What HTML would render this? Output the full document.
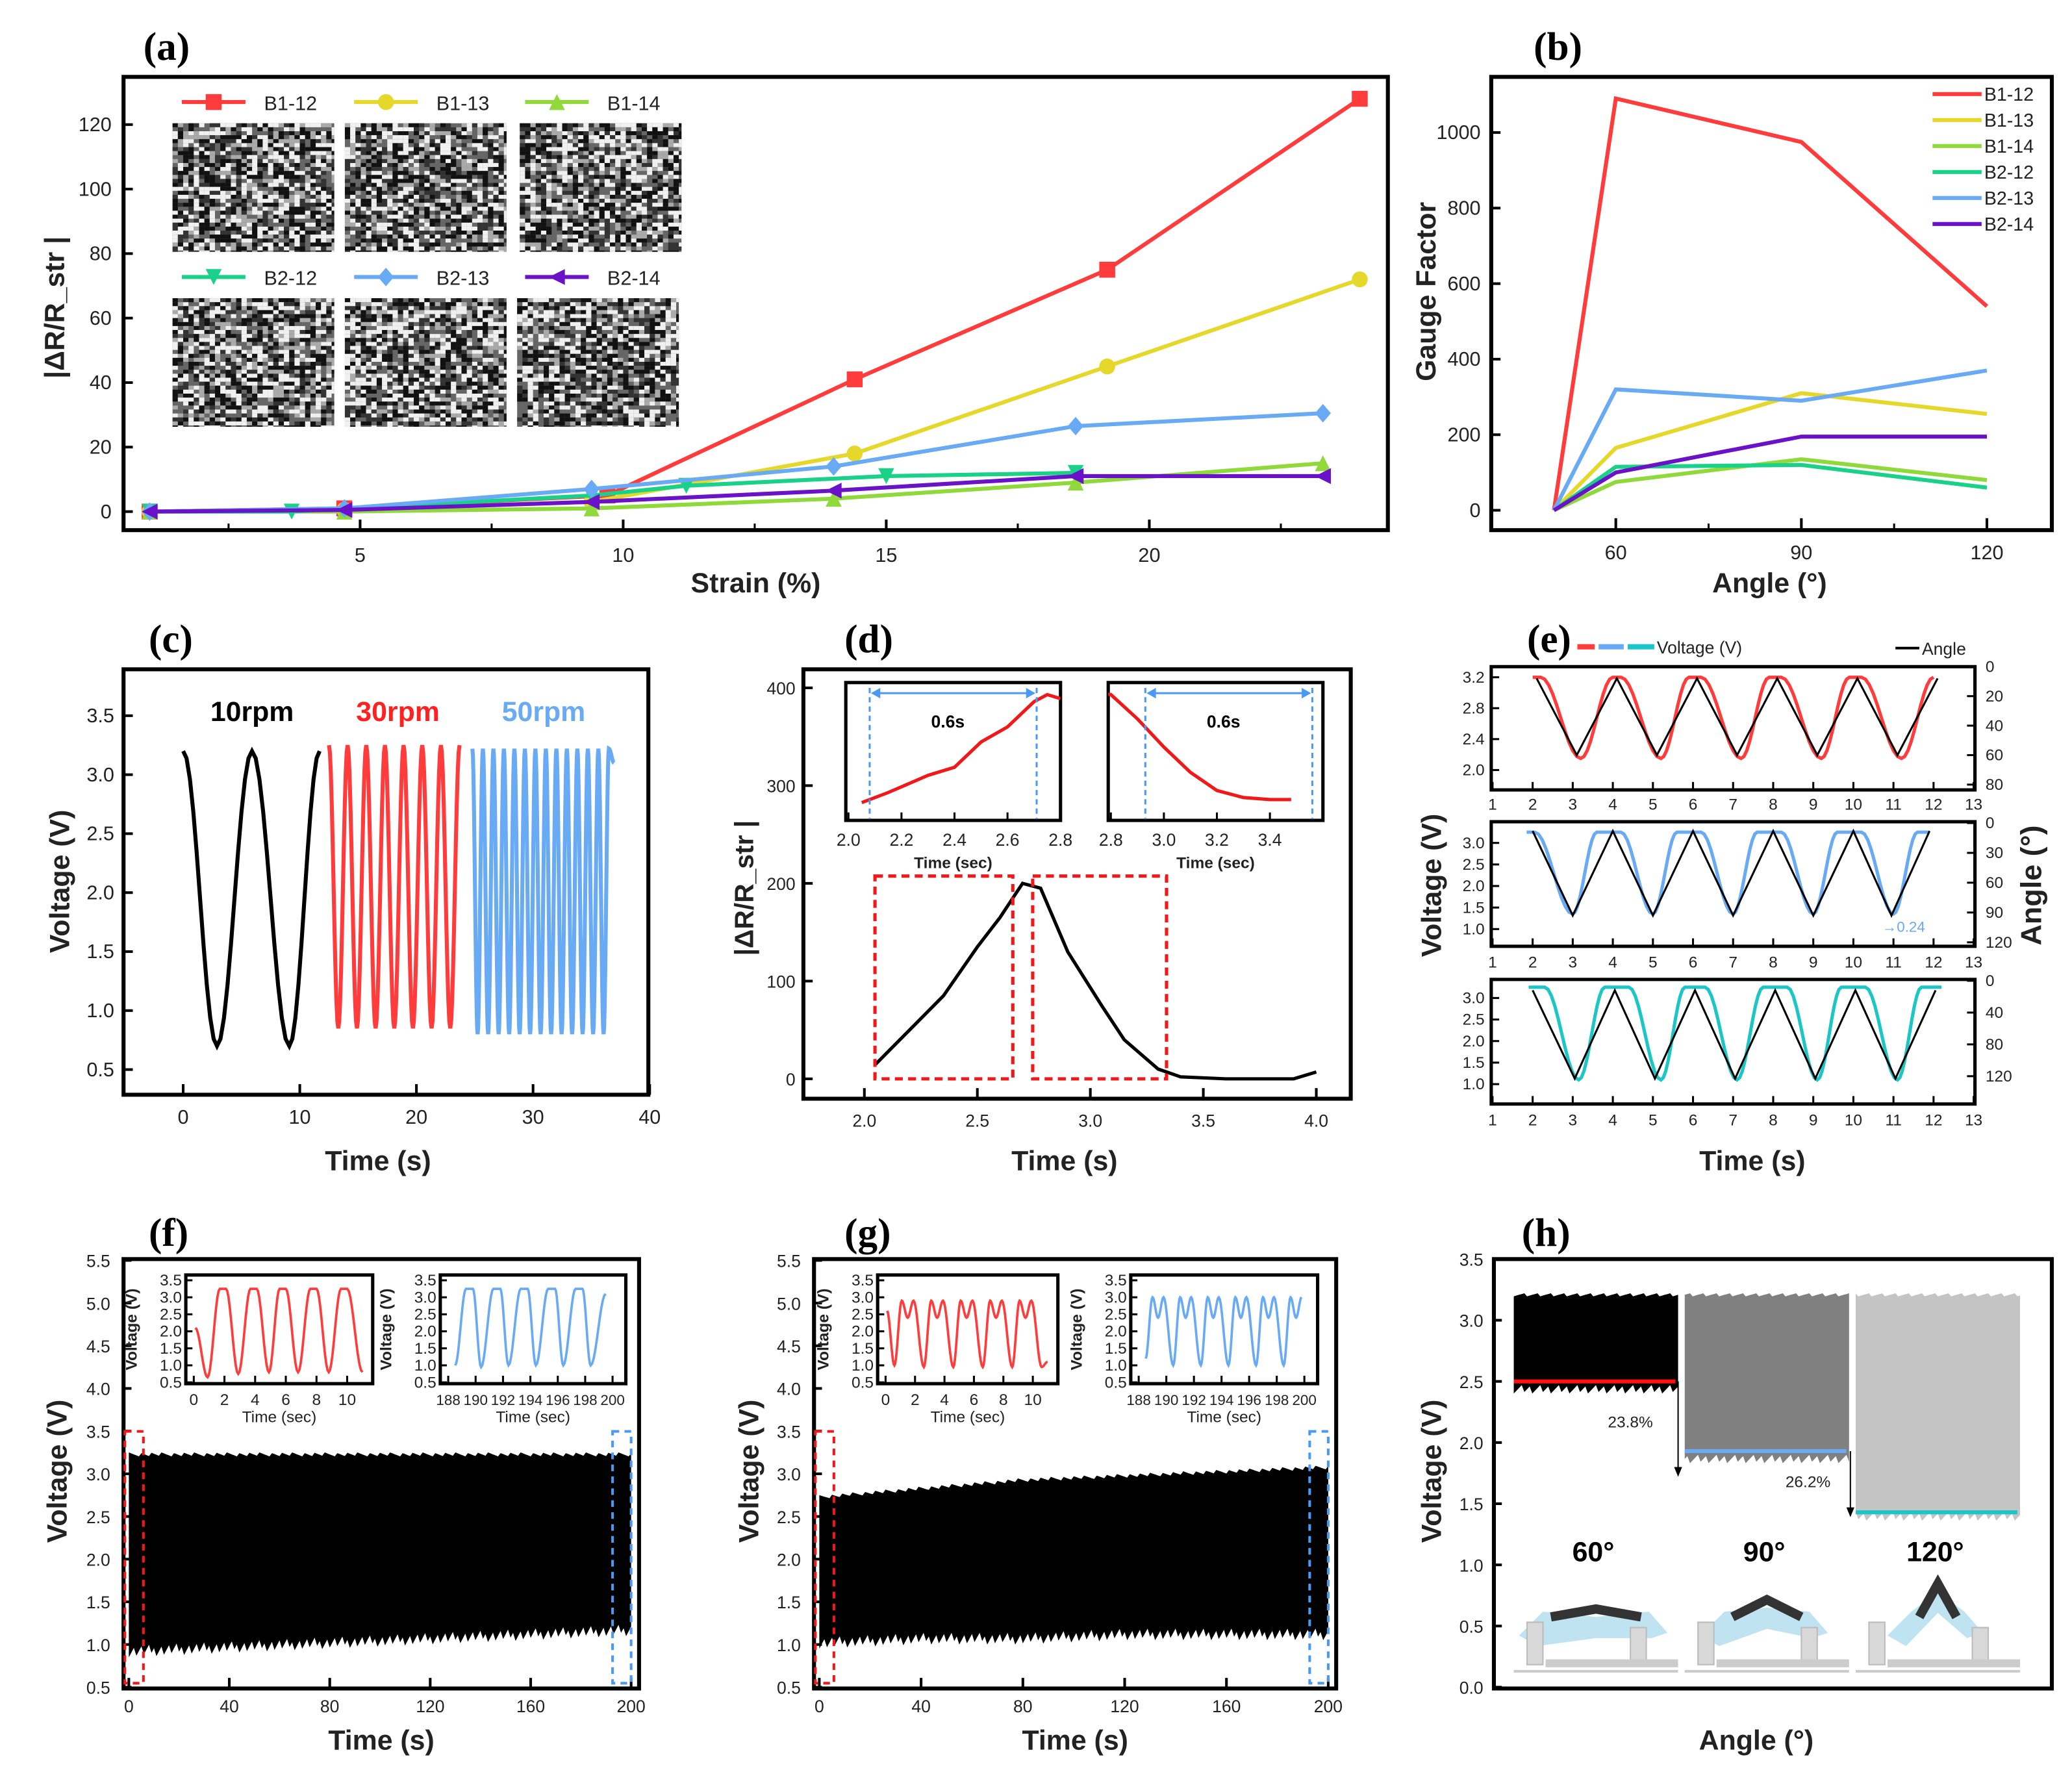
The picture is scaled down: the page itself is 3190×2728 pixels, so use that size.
<!DOCTYPE html>
<html><head><meta charset="utf-8"><style>
html,body{margin:0;padding:0;background:#fff;}
svg{display:block;}
text{font-family:"Liberation Sans",Arial,sans-serif;}
</style></head><body>
<svg id="fig" xmlns="http://www.w3.org/2000/svg" width="3190" height="2728" viewBox="0 0 1563 1337"></svg>
<script>
// ---------- DATA ----------
// (a)
const aStrain = {
 'B1-12':[1,4.7,9.7,14.4,19.2,24], 'B1-13':[1,4.7,9.4,14.4,19.2,24], 'B1-14':[1,4.7,9.4,14,18.6,23.3],
 'B2-12':[1,3.7,9.4,11.2,15,18.6], 'B2-13':[1,4.7,9.4,14,18.6,23.3], 'B2-14':[1,4.7,9.4,14,18.6,23.3]};
const aB112=[0,1,5,41,75,128];
const aB113=[0,0.5,3,18,45,72];
const aB114=[0,0,1,4,9,15];
const aB212=[0,0,5,8,11,12];
const aB213=[0,1,7,14,26.5,30.5];
const aB214=[0,0.5,3,6.5,11,11];
const aXTicks=[5,10,15,20];
const aYTicks=[0,20,40,60,80,100,120];
// (b)
const bAngles=[50,60,90,120];
const bB112=[0,1090,975,540];
const bB113=[0,165,310,255];
const bB114=[0,75,135,80];
const bB212=[0,115,120,60];
const bB213=[0,320,290,370];
const bB214=[0,100,195,195];
const bXTicks=[60,90,120];
const bYTicks=[0,200,400,600,800,1000];
// (c) extrema of voltage waveforms
const cBlackT=[0,2.9,5.9,9.1,11.7];
const cBlackV=[3.2,0.7,3.2,0.7,3.2];
const cRedT=[12.5,13.3,14.1,14.9,15.7,16.5,17.3,18.1,18.9,19.7,20.5,21.3,22.1,22.9,23.7];
const cRedV=[3.25,0.85,3.25,0.85,3.25,0.85,3.25,0.85,3.25,0.85,3.25,0.85,3.25,0.85,3.25];
const cBlueT=[24.8,25.25,25.7,26.15,26.6,27.05,27.5,27.95,28.4,28.85,29.3,29.75,30.2,30.65,31.1,31.55,32,32.45,32.9,33.35,33.8,34.25,34.7,35.15,35.6,36.05,36.5,36.95];
const cBlueV=[3.22,0.8,3.22,0.8,3.22,0.8,3.22,0.8,3.22,0.8,3.22,0.8,3.22,0.8,3.22,0.8,3.22,0.8,3.22,0.8,3.22,0.8,3.22,0.8,3.22,0.8,3.22,3.1];
const cXTicks=[0,10,20,30,40];
const cYTicks=[0.5,1.0,1.5,2.0,2.5,3.0,3.5];
// (d)
const dTime=[2.05,2.2,2.35,2.5,2.6,2.7,2.78,2.9,3.05,3.15,3.3,3.4,3.6,3.9,4.0];
const dVal=[15,50,85,135,165,200,195,130,75,40,10,2,0,0,7];
const dInL_T=[2.05,2.15,2.3,2.4,2.5,2.6,2.7,2.75,2.8];
const dInL_V=[285,295,312,320,345,360,385,392,388];
const dInR_T=[2.72,2.8,2.9,3.0,3.1,3.2,3.3,3.4,3.48];
const dInR_V=[395,392,368,340,315,297,290,288,288];
const dXTicks=[2.0,2.5,3.0,3.5,4.0];
const dYTicks=[0,100,200,300,400];
// (e)
const eAngleT1=[2.1,3.1,4.1,5.1,6.1,7.1,8.1,9.1,10.1,11.1,12.1];
const eAngleV1=[8,60,8,60,8,60,8,60,8,60,8];
const eVoltT1=[2.0,2.2,3.2,4.0,4.2,5.2,5.9,6.2,7.2,7.9,8.2,9.2,9.9,10.2,11.2,12.0];
const eVoltV1=[3.2,3.2,2.15,3.2,3.2,2.15,3.2,3.2,2.15,3.2,3.2,2.15,3.2,3.2,2.15,3.2];
const eAngleT2=[2.0,3.0,4.0,5.0,6.0,7.0,8.0,9.0,10.0,10.95,11.9];
const eAngleV2=[8,93,8,93,8,93,8,93,8,93,8];
const eVoltT2=[1.85,2.05,3.0,3.6,4.2,5.0,5.6,6.2,7.0,7.6,8.2,9.0,9.6,10.2,11.0,11.6,11.9];
const eVoltV2=[3.25,3.25,1.35,3.25,3.25,1.35,3.25,3.25,1.35,3.25,3.25,1.35,3.25,3.25,1.35,3.25,3.25];
const eAngleT3=[2.0,3.05,4.05,5.05,6.05,7.05,8.05,9.05,10.05,11.05,12.05];
const eAngleV3=[12,123,12,123,12,123,12,123,12,123,12];
const eVoltT3=[1.9,2.3,3.15,3.8,4.4,5.2,5.8,6.3,7.1,7.75,8.35,9.1,9.7,10.3,11.1,11.7,12.2];
const eVoltV3=[3.25,3.25,1.1,3.25,3.25,1.1,3.25,3.25,1.1,3.25,3.25,1.1,3.25,3.25,1.1,3.25,3.25];
const eXTicks=[1,2,3,4,5,6,7,8,9,10,11,12,13];
// (f)/(g) envelopes
const fgT=[0,40,80,120,160,200];
const fTop=[3.25,3.25,3.25,3.25,3.25,3.25];
const fBot=[0.85,0.9,0.95,1.0,1.05,1.1];
const gTop=[2.75,2.85,2.95,3.0,3.05,3.1];
const gBot=[0.95,1.0,1.0,1.05,1.05,1.05];
const fgXTicks=[0,40,80,120,160,200];
const fgYTicks=[0.5,1.0,1.5,2.0,2.5,3.0,3.5,4.0,4.5,5.0,5.5];
const fInRedT=[0.1,0.9,1.7,2.1,2.9,3.7,4.1,4.9,5.6,6.0,6.8,7.6,8.0,8.8,9.6,10.0,11.0];
const fInRedV=[2.1,0.65,3.25,3.25,0.75,3.25,3.25,0.8,3.25,3.25,0.8,3.25,3.25,0.8,3.25,3.25,0.8];
const fInBlueT=[188.5,189.3,189.8,190.4,191.3,191.8,192.4,193.3,193.8,194.4,195.3,195.8,196.4,197.3,197.8,198.4,199.5];
const fInBlueV=[1.0,3.25,3.25,0.95,3.25,3.25,1.0,3.25,3.25,1.0,3.25,3.25,1.0,3.25,3.25,1.0,3.1];
const gInRedT=[0.1,0.6,1.1,1.5,1.9,2.6,3.1,3.5,3.9,4.6,5.1,5.5,5.9,6.6,7.1,7.5,7.9,8.6,9.1,9.5,9.9,10.6,11.0];
const gInRedV=[2.6,1.0,2.9,2.4,2.9,0.95,2.9,2.4,2.9,0.95,2.9,2.4,2.9,0.95,2.9,2.4,2.9,0.95,2.9,2.4,2.9,0.95,1.1];
const gInBlueT=[188.5,189.0,189.4,189.8,190.5,191.0,191.4,191.8,192.5,193.0,193.4,193.8,194.5,195.0,195.4,195.8,196.5,197.0,197.4,197.8,198.5,199.0,199.4,199.8];
const gInBlueV=[1.2,3.0,2.4,3.0,1.0,3.0,2.4,3.0,1.0,3.0,2.4,3.0,1.0,3.0,2.4,3.0,1.0,3.0,2.4,3.0,1.0,3.0,2.4,3.0];
const inYTicks=[0.5,1.0,1.5,2.0,2.5,3.0,3.5];
// (h)
const hAngles=['60°','90°','120°'];
const hTop=[3.22,3.22,3.22];
const hBot=[2.42,1.85,1.38];
const hMean=[2.5,1.93,1.43];
const hDrop=['23.8%','26.2%'];
const hYTicks=[0.0,0.5,1.0,1.5,2.0,2.5,3.0,3.5];

// ---------- HELPERS ----------
const NS='http://www.w3.org/2000/svg';
const svg=document.getElementById('fig');
function el(tag,attrs,parent){const e=document.createElementNS(NS,tag);for(const k in attrs)e.setAttribute(k,attrs[k]);(parent||svg).appendChild(e);return e;}
function nm(e,n,i){return e;}
function lin(d0,d1,r0,r1){return v=>r0+(v-d0)*(r1-r0)/(d1-d0);}
function txt(x,y,s,o,p){o=o||{};const t=el('text',Object.assign({x:x,y:y,'font-size':o.size||14,'text-anchor':o.anchor||'middle',fill:o.fill||'#222','font-weight':o.weight||'normal'},o.extra||{}),p);if(o.family)t.setAttribute('style','font-family:'+o.family);t.textContent=s;return t;}
function poly(xs,ys,X,Y){return xs.map((x,i)=>X(x).toFixed(2)+','+Y(ys[i]).toFixed(2)).join(' ');}
function smooth(ts,vs,X,Y){let pts=[];for(let i=0;i<ts.length-1;i++){const n=10;for(let k=0;k<n;k++){const s=k/n;const f=(1-Math.cos(Math.PI*s))/2;pts.push(X(ts[i]+(ts[i+1]-ts[i])*s).toFixed(2)+','+Y(vs[i]+(vs[i+1]-vs[i])*f).toFixed(2));}}pts.push(X(ts[ts.length-1]).toFixed(2)+','+Y(vs[vs.length-1]).toFixed(2));return pts.join(' ');}
function ytitle(x,y,s,size){const t=txt(x,y,s,{size:size||22,weight:'bold',extra:{transform:'rotate(-90 '+x+' '+y+')'}});return t;}

// panel letters
[['(a)',108,45],['(b)',1157,45],['(c)',112,492],['(d)',637,492],['(e)',1152,492],['(f)',112,940],['(g)',637,940],['(h)',1148,940]].forEach(p=>{
 const t=txt(p[1],p[2],p[0],{size:30,weight:'bold',anchor:'start',fill:'#000',family:'"Liberation Serif",serif'});
 nm(t,'panel-label-'+p[0][1]);
});

// ---------- (a) ----------
(function(){
 const X=lin(0,1,73,73+39.7), Y=lin(0,120,386,94);
 const g=nm(el('g',{}),'panel-a-chart');
 nm(el('rect',{x:93,y:58,width:954,height:342,fill:'#fff',stroke:'#000','stroke-width':3},g),'panel-a-frame');
 aXTicks.forEach(v=>{nm(el('line',{x1:X(v),x2:X(v),y1:400,y2:392,stroke:'#000','stroke-width':2},g),'x-tick');nm(txt(X(v),424,String(v),{size:15},g),'x-tick-label');});
 [2.5,7.5,12.5,17.5,22.5].forEach(v=>el('line',{x1:X(v),x2:X(v),y1:400,y2:395,stroke:'#000','stroke-width':1.5},g));
 aYTicks.forEach(v=>{nm(el('line',{x1:93,x2:100,y1:Y(v),y2:Y(v),stroke:'#000','stroke-width':2},g),'y-tick');nm(txt(84,Y(v)+5,String(v),{size:15,anchor:'end'},g),'y-tick-label');});
 nm(txt(570,447,'Strain (%)',{size:21,weight:'bold'},g),'x-axis-title');
 nm(ytitle(48,232,'|ΔR/R_str |',21),'y-axis-title');
 const imgs=[[130,93],[260,93],[392,93],[130,225],[260,225],[390,225]];
 let seed=7;function rnd(){seed=(seed*16807)%2147483647;return seed/2147483647;}
 imgs.forEach((p,i)=>{const ig=nm(el('g',{},g),'texture-image-'+(i+1));el('rect',{x:p[0],y:p[1],width:122,height:97,fill:'#666'},ig);
  const cw=4,ch=3;for(let yy=0;yy<97;yy+=ch)for(let xx=0;xx<122;xx+=cw){const r=rnd();if(r>0.25&&r<0.45)continue;const c=r<0.25?'#111':(r<0.7?'#f0f0f0':(r<0.85?'#333':'#aaa'));el('rect',{x:p[0]+xx,y:p[1]+yy,width:Math.min(cw,122-xx),height:Math.min(ch,97-yy),fill:c},ig);}});
 const series=[['B1-12',aB112,'#ff3b3b','sq'],['B1-13',aB113,'#e6d82b','ci'],['B1-14',aB114,'#8fd93a','tu'],['B2-12',aB212,'#1ad18a','td'],['B2-13',aB213,'#69aaf5','di'],['B2-14',aB214,'#6a12c8','tl']];
 function marker(type,x,y,c,p){const s=6;let e;
  if(type==='sq')e=el('rect',{x:x-s,y:y-s,width:2*s,height:2*s,fill:c},p);
  else if(type==='ci')e=el('circle',{cx:x,cy:y,r:s,fill:c},p);
  else if(type==='tu')e=el('polygon',{points:`${x},${y-s} ${x-s},${y+s} ${x+s},${y+s}`,fill:c},p);
  else if(type==='td')e=el('polygon',{points:`${x},${y+s} ${x-s},${y-s} ${x+s},${y-s}`,fill:c},p);
  else if(type==='di')e=el('polygon',{points:`${x},${y-s-1} ${x-s},${y} ${x},${y+s+1} ${x+s},${y}`,fill:c},p);
  else e=el('polygon',{points:`${x-s},${y} ${x+s},${y-s} ${x+s},${y+s}`,fill:c},p);
  return e;}
 series.forEach(s=>{const sg=nm(el('g',{},g),'series-'+s[0].toLowerCase());
  nm(el('polyline',{points:poly(aStrain[s[0]],s[1],X,Y),fill:'none',stroke:s[2],'stroke-width':3},sg),'line-'+s[0].toLowerCase());
  s[1].forEach((v,i)=>nm(marker(s[3],X(aStrain[s[0]][i]),Y(v),s[2],sg),'point'));});
 const leg=[[137,77,0],[267,77,1],[396,77,2],[137,209,3],[267,209,4],[396,209,5]];
 leg.forEach(l=>{const s=series[l[2]];const lg=nm(el('g',{},g),'legend-entry-'+s[0].toLowerCase());
  el('line',{x1:l[0],x2:l[0]+48,y1:l[1],y2:l[1],stroke:s[2],'stroke-width':3},lg);marker(s[3],l[0]+24,l[1],s[2],lg);
  txt(l[0]+62,l[1]+6,s[0],{size:15,anchor:'start'},lg);});
})();

// ---------- (b) ----------
(function(){
 const X=lin(60,90,1219,1359), Y=lin(0,1000,385,100);
 const g=nm(el('g',{}),'panel-b-chart');
 nm(el('rect',{x:1125,y:58,width:423,height:342,fill:'#fff',stroke:'#000','stroke-width':3},g),'panel-b-frame');
 bXTicks.forEach(v=>{el('line',{x1:X(v),x2:X(v),y1:400,y2:391,stroke:'#000','stroke-width':2},g);nm(txt(X(v),422,String(v),{size:15},g),'x-tick-label');});
 [75,105].forEach(v=>el('line',{x1:X(v),x2:X(v),y1:400,y2:395,stroke:'#000','stroke-width':1.5},g));
 bYTicks.forEach(v=>{el('line',{x1:1125,x2:1132,y1:Y(v),y2:Y(v),stroke:'#000','stroke-width':2},g);nm(txt(1117,Y(v)+5,String(v),{size:15,anchor:'end'},g),'y-tick-label');});
 nm(txt(1335,447,'Angle (°)',{size:21,weight:'bold'},g),'x-axis-title');
 nm(ytitle(1083,220,'Gauge Factor',21),'y-axis-title');
 const series=[['B1-12',bB112,'#ff3b3b'],['B1-13',bB113,'#e6d82b'],['B1-14',bB114,'#8fd93a'],['B2-12',bB212,'#1ad18a'],['B2-13',bB213,'#69aaf5'],['B2-14',bB214,'#6a12c8']];
 series.forEach((s,i)=>{nm(el('polyline',{points:poly(bAngles,s[1],X,Y),fill:'none',stroke:s[2],'stroke-width':3},g),'line-'+s[0].toLowerCase());
  const lg=nm(el('g',{},g),'legend-entry-'+s[0].toLowerCase());const ly=71+i*19.6;
  el('line',{x1:1458,x2:1495,y1:ly,y2:ly,stroke:s[2],'stroke-width':3},lg);txt(1497,ly+5,s[0],{size:14,anchor:'start'},lg);});
})();

// ---------- (c) ----------
(function(){
 const X=lin(0,10,138,226), Y=lin(0.5,3.5,807,540);
 const g=nm(el('g',{}),'panel-c-chart');
 nm(el('rect',{x:93,y:505,width:396,height:321,fill:'#fff',stroke:'#000','stroke-width':3},g),'panel-c-frame');
 cXTicks.forEach(v=>{el('line',{x1:X(v),x2:X(v),y1:826,y2:818,stroke:'#000','stroke-width':2},g);nm(txt(X(v),848,String(v),{size:15},g),'x-tick-label');});
 cYTicks.forEach(v=>{el('line',{x1:93,x2:100,y1:Y(v),y2:Y(v),stroke:'#000','stroke-width':2},g);nm(txt(86,Y(v)+5,v.toFixed(1),{size:15,anchor:'end'},g),'y-tick-label');});
 nm(txt(285,883,'Time (s)',{size:21,weight:'bold'},g),'x-axis-title');
 nm(ytitle(52,665,'Voltage (V)',21),'y-axis-title');
 nm(el('polyline',{points:smooth(cBlackT,cBlackV,X,Y),fill:'none',stroke:'#000','stroke-width':3},g),'line-10rpm');
 nm(el('polyline',{points:smooth(cRedT,cRedV,X,Y),fill:'none',stroke:'#ff3b3b','stroke-width':3},g),'line-30rpm');
 nm(el('polyline',{points:smooth(cBlueT,cBlueV,X,Y),fill:'none',stroke:'#69aaf5','stroke-width':3},g),'line-50rpm');
 nm(txt(190,544,'10rpm',{size:21,weight:'bold',fill:'#000'},g),'label-10rpm');
 nm(txt(300,544,'30rpm',{size:21,weight:'bold',fill:'#ff2020'},g),'label-30rpm');
 nm(txt(410,544,'50rpm',{size:21,weight:'bold',fill:'#69aaf5'},g),'label-50rpm');
})();

// ---------- (d) ----------
(function(){
 const X=lin(2,4,652,993), Y=lin(0,400,814,519);
 const g=nm(el('g',{}),'panel-d-chart');
 nm(el('rect',{x:606,y:505,width:413,height:324,fill:'#fff',stroke:'#000','stroke-width':3},g),'panel-d-frame');
 dXTicks.forEach(v=>{el('line',{x1:X(v),x2:X(v),y1:829,y2:821,stroke:'#000','stroke-width':2},g);nm(txt(X(v),850,v.toFixed(1),{size:13},g),'x-tick-label');});
 dYTicks.forEach(v=>{el('line',{x1:606,x2:613,y1:Y(v),y2:Y(v),stroke:'#000','stroke-width':2},g);nm(txt(600,Y(v)+5,String(v),{size:13,anchor:'end'},g),'y-tick-label');});
 nm(txt(803,883,'Time (s)',{size:21,weight:'bold'},g),'x-axis-title');
 nm(ytitle(568,670,'|ΔR/R_str |',20),'y-axis-title');
 nm(el('polyline',{points:poly(dTime,dVal,X,Y),fill:'none',stroke:'#000','stroke-width':2.5},g),'response-line');
 nm(el('rect',{x:660,y:661,width:104,height:153,fill:'none',stroke:'#f01818','stroke-width':2.5,'stroke-dasharray':'6 4'},g),'rise-box');
 nm(el('rect',{x:779,y:661,width:101,height:153,fill:'none',stroke:'#f01818','stroke-width':2.5,'stroke-dasharray':'6 4'},g),'fall-box');
 function inset(x0,x1,ticks,ts,vs,dash,name){
  const ig=nm(el('g',{},g),name);
  const IY=lin(270,400,617,518);
  const IXs=lin(ticks[0],ticks[ticks.length-1],x0+2,x0+2+(ticks[ticks.length-1]-ticks[0])*200);
  el('rect',{x:x0,y:515,width:x1-x0,height:104,fill:'#fff',stroke:'#000','stroke-width':2.5},ig);
  ticks.forEach(v=>{el('line',{x1:IXs(v),x2:IXs(v),y1:619,y2:613,stroke:'#000','stroke-width':1.5},ig);txt(IXs(v),638,v.toFixed(1),{size:13},ig);});
  const cp=el('clipPath',{id:'clip-'+name},ig);el('rect',{x:x0,y:515,width:x1-x0,height:104},cp);
  el('polyline',{points:poly(ts,vs,IXs,IY),fill:'none',stroke:'#f01818','stroke-width':2.5,'clip-path':'url(#clip-'+name+')'},ig);
  dash.forEach(px=>el('line',{x1:px,x2:px,y1:519,y2:618,stroke:'#4a9af5','stroke-width':1.5,'stroke-dasharray':'4 3'},ig));
  el('line',{x1:dash[0]+2,x2:dash[1]-2,y1:523,y2:523,stroke:'#4a9af5','stroke-width':1.5},ig);
  el('polygon',{points:`${dash[0]+1},523 ${dash[0]+8},519 ${dash[0]+8},527`,fill:'#4a9af5'},ig);
  el('polygon',{points:`${dash[1]-1},523 ${dash[1]-8},519 ${dash[1]-8},527`,fill:'#4a9af5'},ig);
  txt((dash[0]+dash[1])/2-4,549,'0.6s',{size:13,weight:'bold',fill:'#000'},ig);
  txt((x0+x1)/2,655,'Time (sec)',{size:12,weight:'bold'},ig);
 }
 inset(638,800,[2.0,2.2,2.4,2.6,2.8],dInL_T,dInL_V,[656,782],'rise-inset');
 inset(836,998,[2.8,3.0,3.2,3.4],dInR_T,dInR_V,[864,990],'fall-inset');
})();

// ---------- (e) ----------
(function(){
 const g=nm(el('g',{}),'panel-e-chart');
 const X=lin(1,13,1126,1489);
 const rows=[
  {y0:503,y1:596,vd:[2.0,3.2],vr:[581,511],vt:[2.0,2.4,2.8,3.2],ad:[0,80],ar:[503,592],at:[0,20,40,60,80],c:'#ff3b3b',AT:eAngleT1,AV:eAngleV1,VT:eVoltT1,VV:eVoltV1,lx:607},
  {y0:620,y1:714,vd:[1.0,3.0],vr:[701,636],vt:[1.0,1.5,2.0,2.5,3.0],ad:[0,120],ar:[621,711],at:[0,30,60,90,120],c:'#69aaf5',AT:eAngleT2,AV:eAngleV2,VT:eVoltT2,VV:eVoltV2,lx:726},
  {y0:739,y1:833,vd:[1.0,3.0],vr:[818,753],vt:[1.0,1.5,2.0,2.5,3.0],ad:[0,120],ar:[740,812],at:[0,40,80,120],c:'#1cc6c6',AT:eAngleT3,AV:eAngleV3,VT:eVoltT3,VV:eVoltV3,lx:845}];
 rows.forEach((r,i)=>{const rg=nm(el('g',{},g),'subplot-'+(i+1));
  const VY=lin(r.vd[0],r.vd[1],r.vr[0],r.vr[1]), AY=lin(r.ad[0],r.ad[1],r.ar[0],r.ar[1]);
  el('rect',{x:1125,y:r.y0,width:365,height:r.y1-r.y0,fill:'#fff',stroke:'#000','stroke-width':2.5},rg);
  eXTicks.forEach(v=>{el('line',{x1:X(v),x2:X(v),y1:r.y1,y2:r.y1-6,stroke:'#000','stroke-width':1.5},rg);txt(X(v),r.lx+4,String(v),{size:12},rg);});
  r.vt.forEach(v=>{el('line',{x1:1125,x2:1131,y1:VY(v),y2:VY(v),stroke:'#000','stroke-width':1.5},rg);txt(1120,VY(v)+4,v.toFixed(1),{size:12,anchor:'end'},rg);});
  r.at.forEach(v=>{el('line',{x1:1490,x2:1484,y1:AY(v),y2:AY(v),stroke:'#000','stroke-width':1.5},rg);txt(1498,AY(v)+4,String(v),{size:12,anchor:'start'},rg);});
  nm(el('polyline',{points:smooth(r.VT,r.VV,X,VY),fill:'none',stroke:r.c,'stroke-width':2.5},rg),'voltage-line');
  nm(el('polyline',{points:poly(r.AT,r.AV,X,AY),fill:'none',stroke:'#000','stroke-width':1.5},rg),'angle-line');
 });
 nm(txt(1420,703,'→0.24',{size:11,anchor:'start',fill:'#69aaf5'},g),'annotation-0.24');
 const lg=nm(el('g',{},g),'legend');
 el('line',{x1:1190,x2:1203,y1:488,y2:488,stroke:'#ff3b3b','stroke-width':4},lg);
 el('line',{x1:1206,x2:1225,y1:488,y2:488,stroke:'#69aaf5','stroke-width':4},lg);
 el('line',{x1:1228,x2:1248,y1:488,y2:488,stroke:'#1cc6c6','stroke-width':4},lg);
 txt(1250,493,'Voltage (V)',{size:13,anchor:'start'},lg);
 el('line',{x1:1430,x2:1448,y1:489,y2:489,stroke:'#000','stroke-width':2},lg);
 txt(1450,494,'Angle',{size:13,anchor:'start'},lg);
 nm(txt(1322,883,'Time (s)',{size:21,weight:'bold'},g),'x-axis-title');
 nm(ytitle(1087,668,'Voltage (V)',21),'y-axis-title-left');
 const at=txt(1540,668,'Angle (°)',{size:22,weight:'bold',extra:{transform:'rotate(-90 1540 668)'}},g);nm(at,'y-axis-title-right');
})();

// ---------- (f) & (g) ----------
function fgPanel(name,x0,x1,top,bot,lx0,lx1,rx0,rx1,redT,redV,blueT,blueV,labelX){
 const X=lin(0,200,x0+4,x1-6), Y=lin(0.5,5.5,1273,951);
 const g=nm(el('g',{}),name);
 el('rect',{x:x0,y:950,width:x1-x0,height:324,fill:'#fff',stroke:'#000','stroke-width':3},g);
 fgXTicks.forEach(v=>{el('line',{x1:X(v),x2:X(v),y1:1274,y2:1266,stroke:'#000','stroke-width':2},g);nm(txt(X(v),1292,String(v),{size:13},g),'x-tick-label');});
 fgYTicks.forEach(v=>{el('line',{x1:x0,x2:x0+6,y1:Y(v),y2:Y(v),stroke:'#000','stroke-width':2},g);nm(txt(x0-10,Y(v)+5,v.toFixed(1),{size:13,anchor:'end'},g),'y-tick-label');});
 nm(txt((x0+x1)/2,1320,'Time (s)',{size:21,weight:'bold'},g),'x-axis-title');
 nm(ytitle(labelX,1110,'Voltage (V)',21),'y-axis-title');
 function env(arr,t){const k=Math.min(4,Math.floor(t/40));const f=(t-fgT[k])/40;return arr[k]+(arr[k+1]-arr[k])*f;}
 const up=[],dn=[];
 for(let t=0;t<=200;t+=1){const j=((t*29)%13)/13*0.05;up.push(X(t).toFixed(1)+','+Y(env(top,t)-j).toFixed(1));}
 for(let t=200;t>=0;t-=1){const j=((t*37)%11)/11*0.15;dn.push(X(t).toFixed(1)+','+Y(env(bot,t)+j).toFixed(1));}
 nm(el('polygon',{points:up.concat(dn).join(' '),fill:'#000'},g),'voltage-band');
 nm(el('rect',{x:x0+1,y:1080,width:14,height:190,fill:'none',stroke:'#f01818','stroke-width':2,'stroke-dasharray':'5 4'},g),'start-box');
 nm(el('rect',{x:x1-20,y:1080,width:14,height:190,fill:'none',stroke:'#4a9af5','stroke-width':2,'stroke-dasharray':'5 4'},g),'end-box');
 function inset(ix0,ix1,d0,d1,ticks,ts,vs,c,iname,small){
  const ig=nm(el('g',{},g),iname);
  const IX=lin(d0,d1,ix0+6,ix1-10), IY=lin(0.5,3.5,1043,966);
  el('rect',{x:ix0,y:962,width:ix1-ix0,height:82,fill:'#fff',stroke:'#000','stroke-width':2.5},ig);
  ticks.forEach(v=>{el('line',{x1:IX(v),x2:IX(v),y1:1044,y2:1038,stroke:'#000','stroke-width':1.5},ig);txt(IX(v),1060,String(v),{size:small?11:12},ig);});
  inYTicks.forEach(v=>{el('line',{x1:ix0,x2:ix0+5,y1:IY(v),y2:IY(v),stroke:'#000','stroke-width':1.5},ig);txt(ix0-3,IY(v)+4,v.toFixed(1),{size:12,anchor:'end'},ig);});
  el('polyline',{points:smooth(ts,vs,IX,IY),fill:'none',stroke:c,'stroke-width':1.8},ig);
  txt((ix0+ix1)/2,1073,'Time (sec)',{size:12},ig);
  ytitle(ix0-37,1003,'Voltage (V)',12);
 }
 inset(lx0,lx1,0,10.8,[0,2,4,6,8,10],redT,redV,'#ff3b3b','early-inset',false);
 inset(rx0,rx1,188,200,[188,190,192,194,196,198,200],blueT,blueV,'#69aaf5','late-inset',true);
}
fgPanel('panel-f-chart',93,482,fTop,fBot,140,281,332,472,fInRedT,fInRedV,fInBlueT,fInBlueV,50);
fgPanel('panel-g-chart',614,1008,gTop,gBot,662,798,853,994,gInRedT,gInRedV,gInBlueT,gInBlueV,572);

// ---------- (h) ----------
(function(){
 const Y=lin(0,3.5,1273,950);
 const g=nm(el('g',{}),'panel-h-chart');
 el('rect',{x:1127,y:950,width:421,height:324,fill:'#fff',stroke:'#000','stroke-width':3},g);
 hYTicks.forEach(v=>{el('line',{x1:1127,x2:1133,y1:Y(v),y2:Y(v),stroke:'#000','stroke-width':2},g);nm(txt(1119,Y(v)+5,v.toFixed(1),{size:13,anchor:'end'},g),'y-tick-label');});
 nm(txt(1325,1320,'Angle (°)',{size:21,weight:'bold'},g),'x-axis-title');
 nm(ytitle(1087,1110,'Voltage (V)',21),'y-axis-title');
 const xs=[1142,1271,1400], fills=['#000','#808080','#c4c4c4'], lines=['#ff1010','#69aaf5','#1cc6c6'];
 hTop.forEach((t,i)=>{const bg=nm(el('g',{},g),'voltage-block-'+hAngles[i].replace('°',''));
  const pts=[];
  for(let x=xs[i];x<=xs[i]+124;x+=2){const j=((x*17)%5)/5*0.03;pts.push(x+','+Y(t-j).toFixed(1));}
  for(let x=xs[i]+124;x>=xs[i];x-=2){const j=((x*13)%7)/7*0.08;pts.push(x+','+Y(hBot[i]-j+0.05).toFixed(1));}
  el('polygon',{points:pts.join(' '),fill:fills[i]},bg);
  nm(el('line',{x1:xs[i],x2:xs[i]+122,y1:Y(hMean[i]),y2:Y(hMean[i]),stroke:lines[i],'stroke-width':3},bg),'mean-line');
  nm(txt(xs[i]+60,1178,hAngles[i],{size:21,weight:'bold',fill:'#000'},g),'angle-label');
  const ag=nm(el('g',{},g),'robot-arm-icon');const cx=xs[i]+62, base=1264;
  const h=[5,12,24][i], w=[40,32,20][i];
  const apex=base-45-h;
  el('polygon',{points:`${cx-w-18},${base-30} ${cx-w},${base-48} ${cx},${apex+6} ${cx+w},${base-48} ${cx+w+14},${base-32} ${cx+w+2},${base-28} ${cx},${apex+22} ${cx-w-4},${base-22}`,fill:'#bfe3f0'},ag);
  el('polyline',{points:`${cx-w+6},${base-44} ${cx},${apex} ${cx+w-6},${base-44}`,fill:'none',stroke:'#333','stroke-width':7},ag);
  el('rect',{x:cx-52,y:base-40,width:12,height:32,fill:'#d8d8d8',stroke:'#bbb'},ag);
  el('rect',{x:cx+26,y:base-36,width:12,height:28,fill:'#d8d8d8',stroke:'#bbb'},ag);
  el('rect',{x:cx-38,y:base-12,width:100,height:6,fill:'#ccc'},ag);
  el('line',{x1:cx-62,x2:cx+62,y1:base-3,y2:base-3,stroke:'#ccc','stroke-width':2},ag);
 });
 const ar1=nm(el('g',{},g),'drop-arrow-1');
 el('line',{x1:1266,x2:1266,y1:Y(2.5),y2:Y(1.75),stroke:'#000','stroke-width':1},ar1);
 el('polygon',{points:`1266,${Y(1.72)} 1263,${Y(1.8)} 1269,${Y(1.8)}`,fill:'#000'},ar1);
 txt(1230,1077,hDrop[0],{size:12},ar1);
 const ar2=nm(el('g',{},g),'drop-arrow-2');
 el('line',{x1:1396,x2:1396,y1:Y(1.93),y2:Y(1.42),stroke:'#000','stroke-width':1},ar2);
 el('polygon',{points:`1396,${Y(1.39)} 1393,${Y(1.47)} 1399,${Y(1.47)}`,fill:'#000'},ar2);
 txt(1364,1122,hDrop[1],{size:12},ar2);
})();
</script>
</body></html>
